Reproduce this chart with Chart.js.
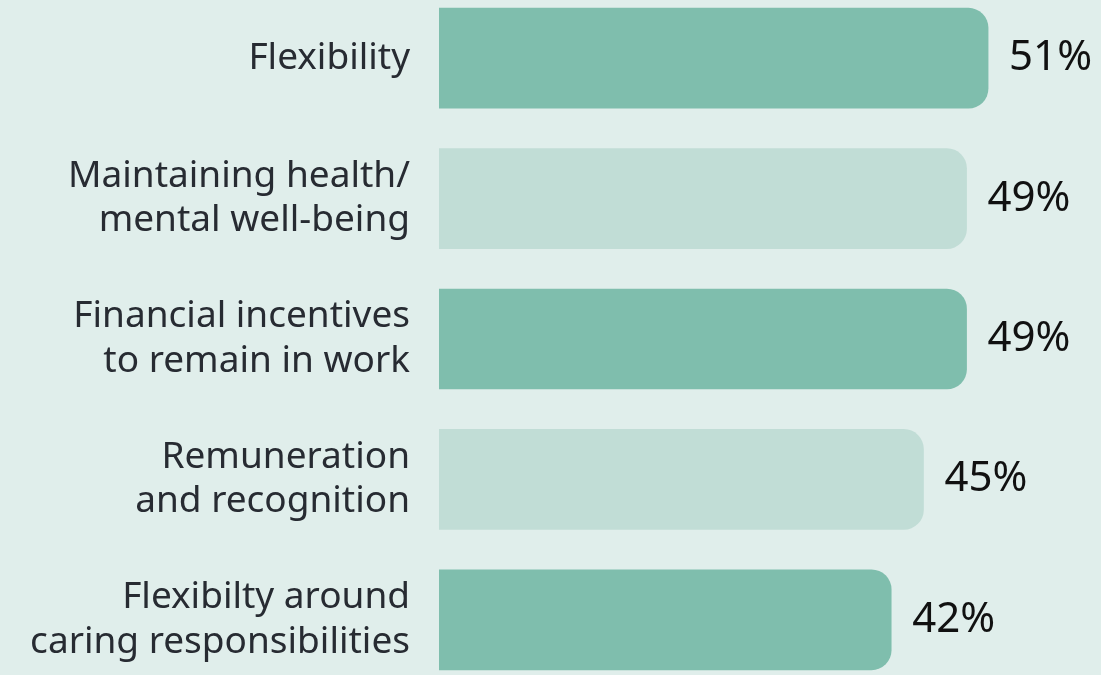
<!DOCTYPE html>
<html>
<head>
<meta charset="utf-8">
<script src="https://cdn.jsdelivr.net/npm/chart.js@4/dist/chart.umd.min.js"></script>
<style>
    html, body {
        margin: 0;
        padding: 0;
        background: #e0eeeb;
        overflow: hidden;
    }
    #wrap {
        position: absolute;
        left: 0;
        top: -12px;
        width: 1101px;
        height: 702px;
    }
</style>
</head>
<body>
<div id="wrap"><canvas id="driversChart"></canvas></div>
<script>
// categories (multi-line labels)
const categories = [
    ['Flexibility'],
    ['Maintaining health/', 'mental well-being'],
    ['Financial incentives', 'to remain in work'],
    ['Remuneration', 'and recognition'],
    ['Flexibilty around', 'caring responsibilities']
];
const values = [51, 49, 49, 45, 42];
const barColors = ['#7fbead', '#c1ddd6', '#7fbead', '#c1ddd6', '#7fbead'];
const xMax = 60;

// value labels at the end of each bar
const valueLabels = {
    id: 'valueLabels',
    afterDatasetsDraw(chart) {
        const ctx = chart.ctx;
        const meta = chart.getDatasetMeta(0);
        ctx.save();
        ctx.font = '42px "Noto Sans"';
        ctx.fillStyle = '#111111';
        ctx.textAlign = 'left';
        ctx.textBaseline = 'middle';
        meta.data.forEach((bar, i) => {
            ctx.fillText(values[i] + '%', bar.x + 21, bar.y);
        });
        ctx.restore();
    }
};

new Chart(document.getElementById('driversChart'), {
    type: 'bar',
    data: {
        labels: categories,
        datasets: [{
            data: values,
            backgroundColor: barColors,
            borderWidth: 0,
            borderRadius: 20,
            borderSkipped: 'start',
            barThickness: 100
        }]
    },
    options: {
        indexAxis: 'y',
        responsive: true,
        maintainAspectRatio: false,
        animation: false,
        layout: {
            padding: { left: 0, right: 16, top: 0, bottom: 0 }
        },
        scales: {
            x: {
                display: false,
                min: 0,
                max: xMax
            },
            y: {
                grid: { display: false, drawTicks: false },
                border: { display: false },
                ticks: {
                    padding: 29,
                    color: '#272b32',
                    font: { family: 'Noto Sans', size: 37, lineHeight: 1.2 }
                },
                afterFit(scale) {
                    scale.width = 439;
                    // labels may overflow the canvas edges like the original
                    scale.paddingTop = 0;
                    scale.paddingBottom = 0;
                }
            }
        },
        plugins: {
            legend: { display: false },
            tooltip: { enabled: false }
        }
    },
    plugins: [valueLabels]
});
</script>
</body>
</html>
